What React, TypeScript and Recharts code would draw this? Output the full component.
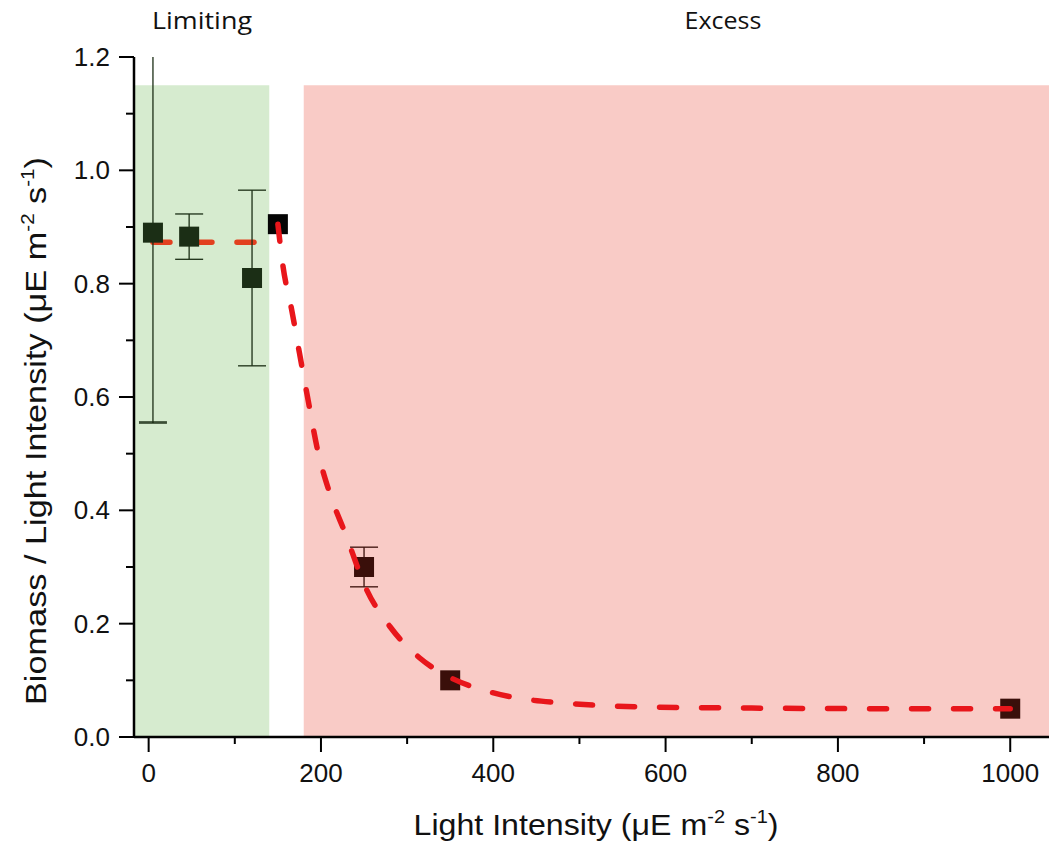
import {
  ComposedChart,
  Customized,
  ErrorBar,
  Line,
  ReferenceArea,
  Scatter,
  XAxis,
  YAxis,
} from "recharts";

// measured points (x: light intensity, y: biomass / light)
const limitingPoints = [
  { x: 5, y: 0.89 },
  { x: 47, y: 0.883 },
  { x: 120, y: 0.81 },
];
const thresholdPoints = [{ x: 150, y: 0.905 }];
const excessPoints = [
  { x: 250, y: 0.3 },
  { x: 350, y: 0.1 },
  { x: 1000, y: 0.05 },
];

// error bars, err = [down, up]
const limitingErrors = [
  { x: 47, y: 0.883, err: [0.04, 0.04] },
  { x: 120, y: 0.81, err: [0.155, 0.155] },
];
// first point: whisker runs off the top of the plot, only the lower end has a cap
const offscaleErrors = [{ x: 5, y: 0.89, err: [0.335, 0.31] }];
const offscaleLowerCap = [{ x: 5, y: 0.555, err: [0.001, 0.001] }];
const excessErrors = [{ x: 250, y: 0.3, err: [0.035, 0.035] }];

// fitted curves
const plateauFit = [
  { x: 5, y: 0.873 },
  { x: 135, y: 0.873 },
];
const decayFit = [
  { x: 150, y: 0.905 },
  { x: 156, y: 0.83 },
  { x: 166, y: 0.754 },
  { x: 175, y: 0.678 },
  { x: 185, y: 0.595 },
  { x: 196, y: 0.507 },
  { x: 210, y: 0.431 },
  { x: 228, y: 0.36 },
  { x: 253, y: 0.26 },
  { x: 280, y: 0.195 },
  { x: 315, y: 0.139 },
  { x: 350, y: 0.105 },
  { x: 388, y: 0.083 },
  { x: 427, y: 0.069 },
  { x: 481, y: 0.06 },
  { x: 532, y: 0.055 },
  { x: 582, y: 0.053 },
  { x: 700, y: 0.051 },
  { x: 850, y: 0.05 },
  { x: 1000, y: 0.05 },
];

const xDomain = [-17, 1045];
const yDomain = [0, 1.2];
const xTicks = [0, 100, 200, 300, 400, 500, 600, 700, 800, 900, 1000];
const yTicks = [0, 0.1, 0.2, 0.3, 0.4, 0.5, 0.6, 0.7, 0.8, 0.9, 1.0, 1.1, 1.2];
const limitingRange = [-17, 140];
const excessRange = [180, 1045];
const shadeTop = 1.15;

const TICK_FONT = "'Liberation Sans', Arial, sans-serif";

function XTick({ x, y, payload }: any) {
  const major = payload.value % 200 === 0;
  return (
    <g>
      <line x1={x} x2={x} y1={y} y2={y + (major ? 15 : 7)} stroke="#000" strokeWidth={2} />
      {major && (
        <text x={x} y={y + 45} textAnchor="middle" fontSize={26} fontFamily={TICK_FONT} fill="#111">
          {payload.value}
        </text>
      )}
    </g>
  );
}

function YTick({ x, y, payload }: any) {
  const major = Math.round(payload.value * 10) % 2 === 0;
  return (
    <g>
      <line x1={x} x2={x - (major ? 15 : 8)} y1={y} y2={y} stroke="#000" strokeWidth={2} />
      {major && (
        <text x={x - 24} y={y + 9} textAnchor="end" fontSize={26} fontFamily={TICK_FONT} fill="#111">
          {payload.value.toFixed(1)}
        </text>
      )}
    </g>
  );
}

const square = (fill: string) => (props: any) => (
  <rect x={props.cx - 10} y={props.cy - 10} width={20} height={20} fill={fill} />
);
const noMarker = () => <g />;

function Unit() {
  const sup = { fontSize: 18 };
  return (
    <>
      <tspan dy={-12} {...sup}>-2</tspan>
      <tspan dy={12}> s</tspan>
      <tspan dy={-12} {...sup}>-1</tspan>
      <tspan dy={12}>)</tspan>
    </>
  );
}

function Titles() {
  const regionFont = "'Open Sans', sans-serif";
  return (
    <g fontFamily={TICK_FONT} fill="#111">
      <text x={202} y={29} textAnchor="middle" fontSize={23} fontFamily={regionFont}
        textLength={100} lengthAdjust="spacingAndGlyphs">
        Limiting
      </text>
      <text x={723} y={29} textAnchor="middle" fontSize={23} fontFamily={regionFont}
        textLength={77} lengthAdjust="spacingAndGlyphs">
        Excess
      </text>
      <text x={596} y={835} textAnchor="middle" fontSize={29}
        textLength={365} lengthAdjust="spacingAndGlyphs">
        Light Intensity (μE m
        <Unit />
      </text>
      <text x={46} y={431} textAnchor="middle" fontSize={30} transform="rotate(-90, 46, 431)"
        textLength={548} lengthAdjust="spacingAndGlyphs">
        Biomass / Light Intensity (μE m
        <Unit />
      </text>
    </g>
  );
}

export default function App() {
  return (
    <div style={{ position: "absolute", left: 0, top: 0, background: "#fff" }}>
      <ComposedChart width={1049} height={849} margin={{ top: 57, right: 0, bottom: 0, left: 0 }}>
        <XAxis
          type="number"
          dataKey="x"
          domain={xDomain}
          allowDataOverflow
          ticks={xTicks}
          interval={0}
          tickSize={0}
          tickMargin={0}
          tickLine={false}
          tick={<XTick />}
          height={112}
          axisLine={{ stroke: "#000", strokeWidth: 2.5 }}
        />
        <YAxis
          type="number"
          dataKey="y"
          domain={yDomain}
          allowDataOverflow
          ticks={yTicks}
          interval={0}
          tickSize={0}
          tickMargin={0}
          tickLine={false}
          tick={<YTick />}
          width={134}
          axisLine={{ stroke: "#000", strokeWidth: 2.5 }}
        />
        <ReferenceArea
          x1={limitingRange[0]}
          x2={limitingRange[1]}
          y1={0}
          y2={shadeTop}
          fill="#d6ebcf"
          fillOpacity={1}
          stroke="none"
        />
        <ReferenceArea
          x1={excessRange[0]}
          x2={excessRange[1]}
          y1={0}
          y2={shadeTop}
          fill="#f9cbc6"
          fillOpacity={1}
          stroke="none"
        />
        <Line
          data={plateauFit}
          dataKey="y"
          type="linear"
          stroke="#e2401f"
          strokeWidth={5.5}
          strokeDasharray="17 25"
          strokeLinecap="round"
          dot={false}
          activeDot={false}
          isAnimationActive={false}
        />
        <Scatter data={offscaleErrors} dataKey="y" shape={noMarker} isAnimationActive={false}>
          <ErrorBar dataKey="err" direction="y" width={0} stroke="#1b2e15" strokeWidth={1.3} />
        </Scatter>
        <Scatter data={offscaleLowerCap} dataKey="y" shape={noMarker} isAnimationActive={false}>
          <ErrorBar dataKey="err" direction="y" width={14} stroke="#1b2e15" strokeWidth={1.3} />
        </Scatter>
        <Scatter data={limitingErrors} dataKey="y" shape={noMarker} isAnimationActive={false}>
          <ErrorBar dataKey="err" direction="y" width={14} stroke="#1b2e15" strokeWidth={1.3} />
        </Scatter>
        <Scatter data={excessErrors} dataKey="y" shape={noMarker} isAnimationActive={false}>
          <ErrorBar dataKey="err" direction="y" width={14} stroke="#3a0f0a" strokeWidth={1.3} />
        </Scatter>
        <Scatter data={limitingPoints} dataKey="y" shape={square("#1b2e15")} isAnimationActive={false} />
        <Scatter data={thresholdPoints} dataKey="y" shape={square("#050505")} isAnimationActive={false} />
        <Scatter data={excessPoints} dataKey="y" shape={square("#3a0f0a")} isAnimationActive={false} />
        <Line
          data={decayFit}
          dataKey="y"
          type="monotone"
          stroke="#e8161b"
          strokeWidth={5.5}
          strokeDasharray="17 25"
          strokeLinecap="round"
          dot={false}
          activeDot={false}
          isAnimationActive={false}
          {...({ zIndex: 700 } as any)}
        />
        <Customized component={<Titles />} />
      </ComposedChart>
    </div>
  );
}
